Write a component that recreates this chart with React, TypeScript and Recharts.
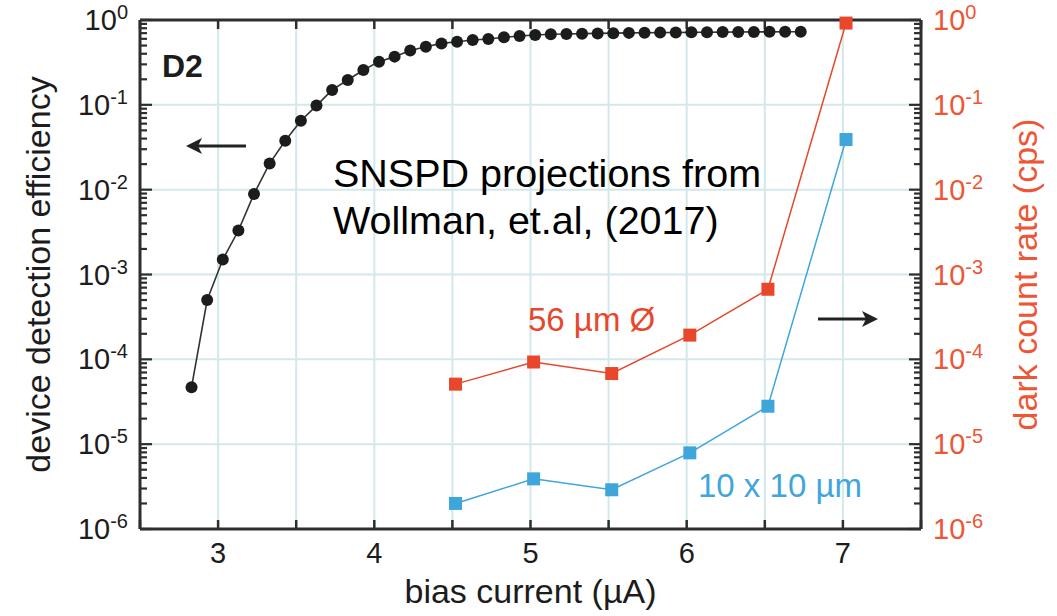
import { LineChart, Line, XAxis, YAxis, CartesianGrid, ReferenceLine } from "recharts";

// bias current (µA) for the detection efficiency sweep
const effCurrent = [
  2.83, 2.93, 3.03, 3.13, 3.23, 3.33, 3.43, 3.53, 3.63, 3.73,
  3.83, 3.93, 4.03, 4.13, 4.23, 4.33, 4.43, 4.53, 4.63, 4.73,
  4.83, 4.93, 5.03, 5.13, 5.23, 5.33, 5.43, 5.53, 5.63, 5.73,
  5.83, 5.93, 6.03, 6.13, 6.23, 6.33, 6.43, 6.53, 6.63, 6.73,
];
const efficiency = [
  4.7e-5, 5.0e-4, 1.5e-3, 3.3e-3, 8.9e-3, 0.0204, 0.0377, 0.065, 0.098, 0.15,
  0.196, 0.257, 0.323, 0.37, 0.436, 0.485, 0.53, 0.555, 0.58, 0.597,
  0.625, 0.648, 0.665, 0.678, 0.684, 0.69, 0.695, 0.7, 0.705, 0.708,
  0.71, 0.713, 0.715, 0.718, 0.72, 0.722, 0.724, 0.725, 0.727, 0.728,
];

// dark count rate (cps) for the two detector sizes
const darkCurrent = [4.52, 5.02, 5.52, 6.02, 6.52, 7.02];
const dark56 = [5.1e-5, 9.3e-5, 6.8e-5, 1.93e-4, 6.7e-4, 0.92];
const dark10 = [2.0e-6, 3.9e-6, 2.9e-6, 7.9e-6, 2.8e-5, 0.039];

const decades = [1e-6, 1e-5, 1e-4, 1e-3, 1e-2, 1e-1, 1];
const xTicks = [2.5, 3, 3.5, 4, 4.5, 5, 5.5, 6, 6.5, 7, 7.5];

const INK = "#1c1c1c";
const AXIS = "#2e2e2e";
const RED = "#e8472b";
const RED_TEXT = "#ee5534";
const BLUE = "#3ea6db";
const GRID = "#d3e8ea";
const GAP = 12;

const X_MIN = 2.5;
const X_MAX = 7.5;
const Y_MIN = 1e-6;
const Y_MAX = 1;

// plot box is 781 x 509 px; used to turn tick lengths into data units
const PX_PER_X = 781 / (X_MAX - X_MIN);
const PX_PER_DECADE = 509 / 6;

// 2..9 minor ticks inside each decade
const minorTicks: number[] = [];
decades.slice(0, -1).forEach((d) => {
  for (let k = 2; k <= 9; k++) minorTicks.push(+(d * k).toPrecision(3));
});
const yMarks = [
  ...decades.map((v) => ({ v, len: 12 })),
  ...minorTicks.map((v) => ({ v, len: 7 })),
];

const effData = effCurrent.map((c, i) => ({ current: c, value: efficiency[i] }));
const d56Data = darkCurrent.map((c, i) => ({ current: c, value: dark56[i] }));
const d10Data = darkCurrent.map((c, i) => ({ current: c, value: dark10[i] }));

// "10" with the exponent raised, anchored against the axis
const PowerTick = (props: any) => {
  const { x, y, payload, side, color } = props;
  const exp = Math.round(Math.log10(payload.value));
  return (
    <text x={x} y={y} textAnchor={side === "left" ? "end" : "start"} fill={color} fontSize={29}>
      <tspan dy={10}>10</tspan>
      <tspan fontSize={20} dy={-11}>{`${exp}`}</tspan>
    </text>
  );
};

const CurrentTick = (props: any) => {
  const { x, y, payload } = props;
  const v = payload.value;
  if (!Number.isInteger(v)) return <g />;
  return (
    <text x={x} y={y + 34} textAnchor="middle" fill={INK} fontSize={29}>
      {v}
    </text>
  );
};

const squareDot = (color: string) => (props: any) => {
  const { cx, cy, index } = props;
  return <rect key={`sq-${index}`} x={cx - 6.5} y={cy - 6.5} width={13} height={13} fill={color} />;
};

const axisLine = { stroke: AXIS, strokeWidth: 3 };
const xTickUp = Y_MIN * 10 ** (9 / PX_PER_DECADE);
const xTickDown = Y_MAX * 10 ** (-9 / PX_PER_DECADE);

export default function App() {
  return (
    <div
      style={{
        position: "absolute",
        left: 0,
        top: 0,
        width: 1057,
        height: 616,
        background: "#fff",
        fontFamily: "'Liberation Sans', Arial, sans-serif",
      }}
    >
      <LineChart width={1057} height={616} margin={{ top: 20, right: 0, bottom: 0, left: 0 }}>
        <CartesianGrid
          xAxisId="bottom"
          yAxisId="eff"
          stroke={GRID}
          strokeWidth={2}
          horizontalValues={decades}
          verticalValues={xTicks}
        />
        <XAxis
          xAxisId="bottom"
          type="number"
          dataKey="current"
          domain={[X_MIN, X_MAX]}
          ticks={xTicks}
          interval={0}
          height={87}
          tickSize={0}
          tickMargin={0}
          tickLine={false}
          axisLine={axisLine}
          tick={<CurrentTick />}
          label={{
            value: "bias current (µA)",
            position: "insideBottom",
            offset: 13,
            fill: INK,
            fontSize: 34,
          }}
        />
        {/* top frame edge */}
        <XAxis
          xAxisId="top"
          orientation="top"
          mirror
          height={1}
          type="number"
          dataKey="current"
          domain={[X_MIN, X_MAX]}
          tick={false}
          tickLine={false}
          axisLine={axisLine}
        />
        <YAxis
          yAxisId="eff"
          orientation="left"
          scale="log"
          domain={[Y_MIN, Y_MAX]}
          ticks={decades}
          interval={0}
          width={140}
          tickSize={0}
          tickMargin={GAP}
          tickLine={false}
          axisLine={axisLine}
          tick={<PowerTick side="left" color={INK} />}
          label={{
            value: "device detection efficiency",
            angle: -90,
            position: "insideLeft",
            offset: 38,
            fill: INK,
            fontSize: 34,
            style: { textAnchor: "middle" },
          }}
        />
        <YAxis
          yAxisId="dcr"
          orientation="right"
          scale="log"
          domain={[Y_MIN, Y_MAX]}
          ticks={decades}
          interval={0}
          width={136}
          tickSize={0}
          tickMargin={GAP}
          tickLine={false}
          axisLine={axisLine}
          tick={<PowerTick side="right" color={RED_TEXT} />}
          label={{
            value: "dark count rate (cps)",
            angle: -90,
            position: "insideRight",
            offset: 32,
            fill: RED_TEXT,
            fontSize: 34,
            style: { textAnchor: "middle" },
          }}
        />

        {/* inward tick marks on all four sides */}
        {yMarks.map(({ v, len }) => (
          <ReferenceLine
            key={`tl-${v}`}
            xAxisId="bottom"
            yAxisId="eff"
            segment={[
              { x: X_MIN, y: v },
              { x: X_MIN + len / PX_PER_X, y: v },
            ]}
            stroke={AXIS}
            strokeWidth={2.2}
          />
        ))}
        {yMarks.map(({ v, len }) => (
          <ReferenceLine
            key={`tr-${v}`}
            xAxisId="bottom"
            yAxisId="dcr"
            segment={[
              { x: X_MAX - len / PX_PER_X, y: v },
              { x: X_MAX, y: v },
            ]}
            stroke={AXIS}
            strokeWidth={2.2}
          />
        ))}
        {xTicks.map((t) => (
          <ReferenceLine
            key={`tb-${t}`}
            xAxisId="bottom"
            yAxisId="eff"
            segment={[
              { x: t, y: Y_MIN },
              { x: t, y: xTickUp },
            ]}
            stroke={AXIS}
            strokeWidth={2.5}
          />
        ))}
        {xTicks.map((t) => (
          <ReferenceLine
            key={`tt-${t}`}
            xAxisId="bottom"
            yAxisId="eff"
            segment={[
              { x: t, y: xTickDown },
              { x: t, y: Y_MAX },
            ]}
            stroke={AXIS}
            strokeWidth={2.5}
          />
        ))}

        <Line
          data={effData}
          xAxisId="bottom"
          yAxisId="eff"
          dataKey="value"
          type="linear"
          stroke="#333"
          strokeWidth={1.6}
          dot={{ r: 6, fill: INK, stroke: "none" }}
          isAnimationActive={false}
        />
        <Line
          data={d56Data}
          xAxisId="bottom"
          yAxisId="dcr"
          dataKey="value"
          type="linear"
          stroke={RED}
          strokeWidth={1.5}
          dot={squareDot(RED)}
          isAnimationActive={false}
        />
        <Line
          data={d10Data}
          xAxisId="bottom"
          yAxisId="dcr"
          dataKey="value"
          type="linear"
          stroke={BLUE}
          strokeWidth={1.5}
          dot={squareDot(BLUE)}
          isAnimationActive={false}
        />
      </LineChart>

      {/* annotations over the plot */}
      <svg
        width={1057}
        height={616}
        style={{ position: "absolute", left: 0, top: 0, pointerEvents: "none" }}
      >
        <text x={162} y={77} fontSize={32} fontWeight="bold" fill={INK}>
          D2
        </text>
        <line x1={246} y1={146} x2={196} y2={146} stroke="#222" strokeWidth={3} />
        <path d="M186 146 L202 138 L198 146 L202 154 Z" fill="#222" />
        <line x1={818} y1={319} x2={868} y2={319} stroke="#222" strokeWidth={3} />
        <path d="M878 319 L862 311 L866 319 L862 327 Z" fill="#222" />
        <text x={333} y={187} fontSize={39.5} fill="#000">
          SNSPD projections from
        </text>
        <text x={333} y={234} fontSize={39.5} fill="#000">
          Wollman, et.al, (2017)
        </text>
        <text x={528} y={331} fontSize={33} fill={RED}>
          56 µm Ø
        </text>
        <text x={698} y={497} fontSize={33} fill={BLUE}>
          10 x 10 µm
        </text>
      </svg>
    </div>
  );
}
